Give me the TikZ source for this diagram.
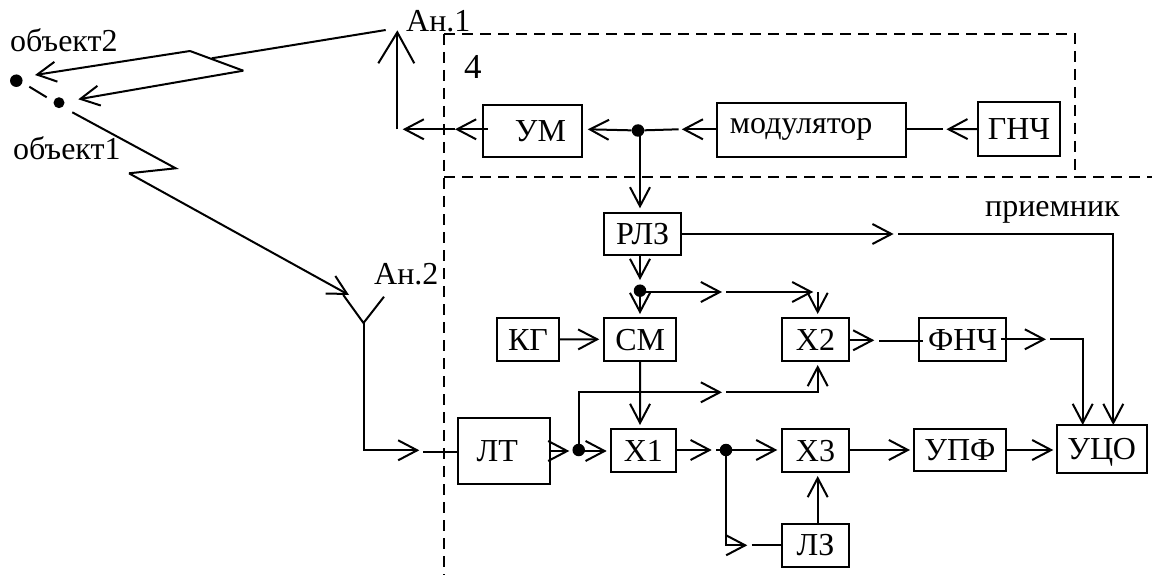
\documentclass[tikz,border=0pt]{standalone}
\usepackage{fontspec}
\setmainfont{Liberation Serif}
\usetikzlibrary{arrows.meta}
\tikzset{
  bx/.style={draw,line width=2pt,inner sep=0pt,font=\fontsize{32}{32}\selectfont},
  capbx/.style={bx,text height=21pt,text depth=0pt},
  lbl/.style={inner sep=0pt,anchor=base west,font=\fontsize{32}{32}\selectfont},
  wire/.style={line width=2pt},
  arr/.style={line width=2pt,-{Straight Barb[length=19pt,width=20pt,line width=2pt]}},
  dotn/.style={circle,fill=black,inner sep=0pt,minimum size=12.5pt},
  frame/.style={line width=2pt,dash pattern=on 11pt off 7pt},
}
\begin{document}
\begin{tikzpicture}[x=1pt,y=-1pt]
\useasboundingbox (0,0) rectangle (1152,575);
\fill[white] (0,0) rectangle (1152,575);
% frames
\coordinate (fa) at (444,34);
\coordinate (fb) at (1075,34);
\coordinate (fc) at (1075,177);
\coordinate (fd) at (1152,177);
\coordinate (fe) at (444,177);
\coordinate (ff) at (444,575);
\draw[frame] (fa) -- (fb) -- (fc) -- (fd);
\draw[frame] (fa) -- (ff);
\draw[frame] (fe) -- (fc);
% boxes
\node[capbx,minimum width=99pt,minimum height=52pt] (um) at (532.5,131) {\kern 16pt УМ};
\node[bx,minimum width=189pt,minimum height=54pt] (mod) at (811.7,129.7) {модулятор\kern 21pt};
\node[capbx,minimum width=82pt,minimum height=54pt] (gnch) at (1019,129) {ГНЧ};
\node[capbx,minimum width=76.5pt,minimum height=42pt] (rlz) at (642.7,234) {РЛЗ};
\node[capbx,minimum width=61.4pt,minimum height=43pt] (kg) at (528,339.5) {КГ};
\node[capbx,minimum width=71.7pt,minimum height=43pt] (sm) at (640.2,339.5) {СМ};
\node[capbx,minimum width=66.4pt,minimum height=43pt] (x2) at (815.5,339.5) {Х2};
\node[capbx,minimum width=86.7pt,minimum height=43pt] (fnch) at (962.7,339.5) {ФНЧ};
\node[capbx,minimum width=92pt,minimum height=66pt] (lt) at (504.3,451) {ЛТ\kern 14pt};
\node[capbx,minimum width=65.3pt,minimum height=43pt] (x1) at (643.3,450.5) {Х1};
\node[capbx,minimum width=66.4pt,minimum height=43pt] (x3) at (815.5,450.5) {Х3};
\node[capbx,minimum width=92pt,minimum height=42pt] (upf) at (960,450) {УПФ};
\node[capbx,minimum width=90pt,minimum height=48pt] (uco) at (1101.7,449.3) {УЦО};
\node[capbx,minimum width=66.4pt,minimum height=42.7pt] (lz) at (815.5,545.3) {ЛЗ};
% labels
\node[lbl] (t1) at (10,52) {объект2};
\node[lbl] (t2) at (13,160) {объект1};
\node[lbl] (t3) at (406,32) {Ан.1};
\node[lbl] (t4) at (374,284) {Ан.2};
\node[lbl,font=\fontsize{35}{35}\selectfont] (t5) at (464,79) {4};
\node[lbl] (t6) at (985,216) {приемник};
% dots
\node[dotn] (o2) at (16.3,80.7) {};
\node[dotn,minimum size=11pt] (o1) at (59,102.7) {};
\node[dotn] (d1) at (638,130.5) {};
\node[dotn] (d2) at (640,290.7) {};
\node[dotn] (d3) at (578.7,450) {};
\node[dotn] (d4) at (726,450) {};
% transmitter chain
\coordinate (g1) at (946.4,129.3);
\coordinate (g2) at (943,129.3);
\draw[arr] (gnch.west) -- (g1);
\draw[wire] (g2) -- (mod.east |- g2);
\coordinate (m1) at (681.8,129.3);
\coordinate (m2) at (678.6,129.3);
\draw[arr] (mod.west |- m1) -- (m1);
\draw[wire] (m2) -- (d1);
\coordinate (u1) at (587.7,129.3);
\draw[arr] (d1) -- (u1);
\coordinate (u2) at (487.7,129.3);
\coordinate (u3) at (455,129.3);
\coordinate (u4) at (402.7,129.3);
\coordinate (av) at (397.3,129.3);
\coordinate (atop) at (397.3,32.3);
\draw[arr] (u2) -- (u3);
\draw[arr] (u3) -- (u4);
\draw[wire] (av) -- (atop);
\draw[wire] (378.3,63.3) -- (atop) -- (414.3,63.3);
% to RLZ
\coordinate (r0) at (640,130.5);
\coordinate (r1) at (640,208.3);
\draw[arr] (r0) -- (r1);
\coordinate (r2) at (640,255);
\coordinate (r3) at (640,280);
\draw[arr] (r2) -- (r3);
\coordinate (r4) at (893.6,234);
\coordinate (r5) at (898,234);
\coordinate (r6) at (1113.3,234);
\coordinate (r7) at (1113.3,425);
\draw[arr] (rlz.east) -- (r4);
\draw[arr] (r5) -- (r6) -- (r7);
% dot d2 branches
\coordinate (s1) at (640,314);
\draw[arr] (d2) -- (s1);
\coordinate (s2) at (722,292);
\coordinate (s3) at (726,292);
\coordinate (s4) at (813.3,292);
\coordinate (s5) at (817.7,292);
\coordinate (s6) at (817.7,314);
\draw[arr] (d2.east |- s2) -- (s2);
\draw[arr] (s3) -- (s4);
\draw[arr] (s5) -- (s6);
% KG, SM
\coordinate (k1) at (599.3,339.3);
\draw[arr] (kg.east) -- (k1);
\coordinate (c1) at (640,425);
\draw[arr] (sm.south) -- (c1);
% antenna 2
\coordinate (y0) at (363.5,323);
\coordinate (y1) at (343.3,295);
\coordinate (y2) at (384,296.7);
\coordinate (y3) at (363.5,450.3);
\coordinate (y4) at (419.3,450.3);
\coordinate (y5) at (423.3,451.7);
\draw[wire] (y1) -- (y0) -- (y2);
\draw[arr] (y0) -- (y3) -- (y4);
\draw[wire] (y5) -- (lt.west |- y5);
% LT outputs
\coordinate (l1) at (569.3,451);
\coordinate (l2) at (606.7,451);
\draw[arr] (lt.east |- l1) -- (l1);
\draw[arr] (d3.center |- l2) -- (l2);
\coordinate (b1) at (578.7,392.3);
\coordinate (b2) at (722,392.3);
\coordinate (b3) at (726,392.3);
\coordinate (b4) at (817.7,392.3);
\coordinate (b5) at (817.7,365);
\draw[arr] (d3) -- (b1) -- (b2);
\draw[arr] (b3) -- (b4) -- (b5);
% X1 outputs
\coordinate (e1) at (711.7,450);
\coordinate (e2) at (716,450);
\coordinate (e3) at (777.3,450);
\draw[arr] (x1.east |- e1) -- (e1);
\draw[wire] (e2) -- (d4);
\draw[arr] (d4) -- (e3);
\coordinate (z1) at (726,545.3);
\coordinate (z2) at (747.3,545.3);
\coordinate (z3) at (751.7,545.3);
\draw[arr] (d4) -- (z1) -- (z2);
\draw[wire] (z3) -- (lz.west);
\coordinate (z4) at (817.7,524);
\coordinate (z5) at (817.7,476);
\draw[arr] (z4) -- (z5);
% right side
\coordinate (h1) at (874.3,340.3);
\coordinate (h2) at (879,340.7);
\coordinate (h3) at (923,340.7);
\draw[arr] (x2.east |- h1) -- (h1);
\draw[wire] (h2) -- (h3);
\coordinate (f1) at (1000.7,339.3);
\coordinate (f2) at (1046,339.3);
\coordinate (f3) at (1050,339.3);
\coordinate (f4) at (1082.7,339.3);
\coordinate (f5) at (1082.7,425);
\draw[arr] (f1) -- (f2);
\draw[arr] (f3) -- (f4) -- (f5);
\coordinate (w1) at (910,450);
\coordinate (w2) at (1053.3,450);
\draw[arr] (x3.east |- w1) -- (w1);
\draw[arr] (upf.east |- w2) -- (w2);
% radio paths
\coordinate (p0) at (385.7,30);
\coordinate (p1) at (211.7,58.3);
\coordinate (p2) at (190,51);
\coordinate (p3) at (243.3,70.7);
\coordinate (p4) at (35,75);
\coordinate (p5) at (78.3,99.3);
\draw[wire] (p0) -- (p1);
\draw[wire] (p2) -- (p3);
\draw[arr] (p2) -- (p4);
\draw[arr] (p3) -- (p5);
\coordinate (q1) at (29.3,86.7);
\coordinate (q2) at (46.7,97.3);
\draw[wire] (q1) -- (q2);
\coordinate (v0) at (72.3,112.3);
\coordinate (v1) at (175.7,168.3);
\coordinate (v2) at (129,173.3);
\coordinate (v3) at (349,295);
\draw[wire] (v0) -- (v1) -- (v2);
\draw[arr] (v2) -- (v3);
\end{tikzpicture}
\end{document}
